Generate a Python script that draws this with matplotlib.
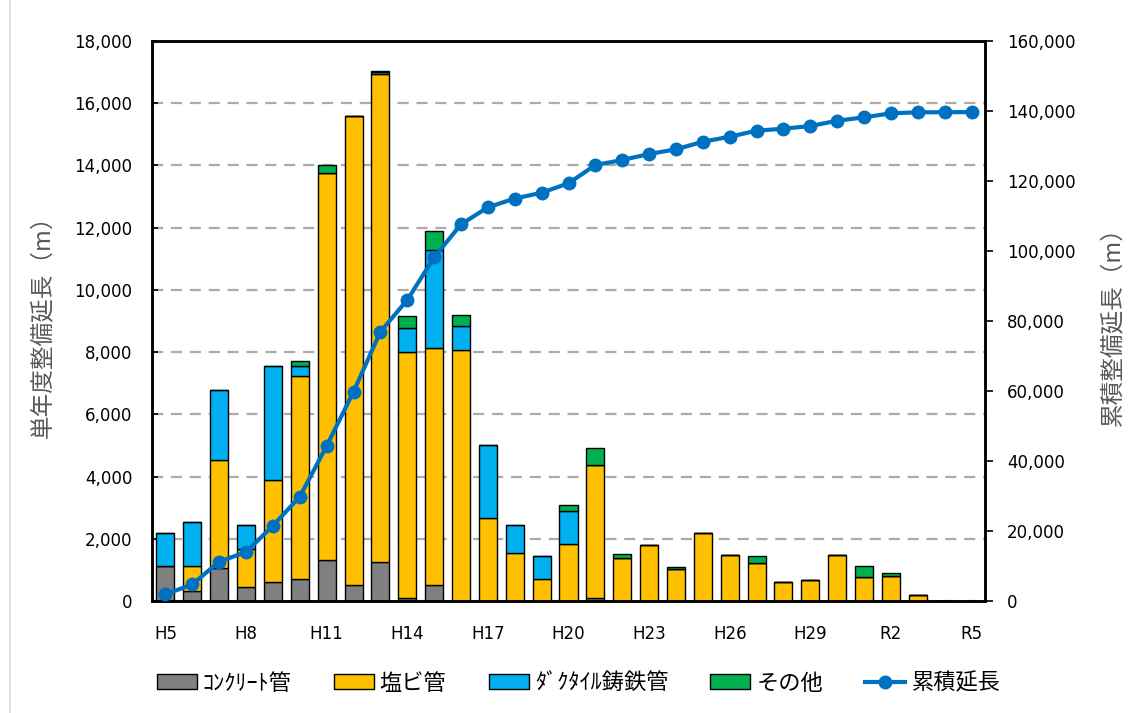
import numpy as np
import matplotlib.pyplot as plt
from matplotlib.lines import Line2D
from matplotlib.ticker import FuncFormatter, MultipleLocator

plt.rcParams['font.family'] = ['DejaVu Sans', 'Noto Sans CJK JP']

years = ['H5', 'H6', 'H7', 'H8', 'H9', 'H10', 'H11', 'H12', 'H13', 'H14',
         'H15', 'H16', 'H17', 'H18', 'H19', 'H20', 'H21', 'H22', 'H23', 'H24',
         'H25', 'H26', 'H27', 'H28', 'H29', 'H30', 'R1', 'R2', 'R3', 'R4', 'R5']

# single-year lengths (m) by pipe type
concrete = [1130, 330, 1050, 440, 620, 700, 1320, 520, 1250, 90,
            520, 0, 0, 0, 0, 0, 90, 0, 0, 0,
            0, 0, 0, 0, 0, 0, 0, 0, 0, 0, 0]
pvc = [0, 800, 3480, 1230, 3260, 6540, 12450, 15070, 15690, 7900,
       7620, 8070, 2680, 1550, 700, 1830, 4280, 1390, 1790, 1020,
       2175, 1480, 1230, 620, 660, 1480, 770, 810, 200, 0, 0]
ductile = [1050, 1400, 2250, 770, 3670, 310, 0, 0, 70, 800,
           3140, 770, 2320, 890, 740, 1070, 0, 0, 0, 0,
           0, 0, 0, 0, 0, 0, 0, 0, 0, 0, 0]
other = [0, 0, 0, 0, 0, 165, 260, 0, 30, 360,
         610, 340, 0, 0, 0, 170, 560, 130, 0, 80,
         0, 0, 215, 0, 0, 0, 360, 75, 0, 0, 0]

# cumulative length (m)
cumulative = [1900, 4770, 11230, 14000, 21520, 29800, 44290, 59800, 76940, 86000,
              98190, 107620, 112480, 115000, 116650, 119340, 124570, 126000, 127710, 129050,
              131220, 132650, 134370, 134940, 135710, 137220, 138190, 139340, 139630, 139650, 139700]

series = [('ｺﾝｸﾘｰﾄ管', concrete, '#808080'),
          ('塩ビ管', pvc, '#FFC000'),
          ('ﾀﾞｸﾀｲﾙ鋳鉄管', ductile, '#00B0F0'),
          ('その他', other, '#00B050')]

fig = plt.figure(figsize=(11.31, 7.13), dpi=100)
ax = fig.add_axes([152 / 1131, 1 - 601 / 713, (985 - 152) / 1131, (601 - 41) / 713])
x = np.arange(len(years))

bottom = np.zeros(len(years))
handles = []
for name, vals, col in series:
    vals = np.array(vals, dtype=float)
    b = ax.bar(x, vals, 0.67, bottom=bottom, color=col, edgecolor='black',
               linewidth=1.0, label=name, zorder=2)
    handles.append(b)
    bottom += vals

ax.set_xlim(-0.5, len(years) - 0.5)
ax.set_ylim(0, 18000)
ax.yaxis.set_major_locator(MultipleLocator(2000))
ax.yaxis.set_major_formatter(FuncFormatter(lambda v, p: f'{int(v):,}'))
ax.set_xticks(x[::3])
ax.set_xticklabels([years[i] for i in range(0, len(years), 3)])
ax.grid(axis='y', color='#ABABAB', linestyle=(0, (5, 3.5)), linewidth=1.6, zorder=0)
ax.set_axisbelow(True)
ax.tick_params(axis='y', direction='in', length=4, width=1.2, labelsize=12, pad=14, colors='black')
ax.tick_params(axis='x', length=0, labelsize=12, pad=17)
ax.set_ylabel('単年度整備延長（m）', fontsize=17, color='#595959', labelpad=15,
              family=['Noto Sans CJK JP'])
for s in ax.spines.values():
    s.set_linewidth(1.8)
    s.set_color('black')

ax2 = ax.twinx()
ln, = ax2.plot(x, cumulative, color='#0070C0', linewidth=3, marker='o', markersize=9,
               label='累積延長', zorder=3)
ax2.set_ylim(0, 160000)
ax2.yaxis.set_major_locator(MultipleLocator(20000))
ax2.yaxis.set_major_formatter(FuncFormatter(lambda v, p: f'{int(v):,}'))
ax2.tick_params(axis='y', direction='out', length=6, width=1.2, labelsize=12, pad=10)
ax2.set_ylabel('累積整備延長（m）', fontsize=17, color='#595959', labelpad=18,
               family=['Noto Sans CJK JP'])
for s in ax2.spines.values():
    s.set_linewidth(1.8)
    s.set_color('black')

fig.legend(handles + [ln], [s[0] for s in series] + ['累積延長'],
           loc='center', bbox_to_anchor=(0.5115, 0.042), ncol=5, frameon=False,
           handlelength=1.8, handleheight=0.65, columnspacing=1.9,
           handletextpad=0.27, prop={'family': ['Noto Sans CJK JP'], 'size': 16})

fig.add_artist(Line2D([10 / 1131, 10 / 1131], [0, 1], color='#D9D9D9', linewidth=1.2))

fig.savefig('out.png', dpi=100)
